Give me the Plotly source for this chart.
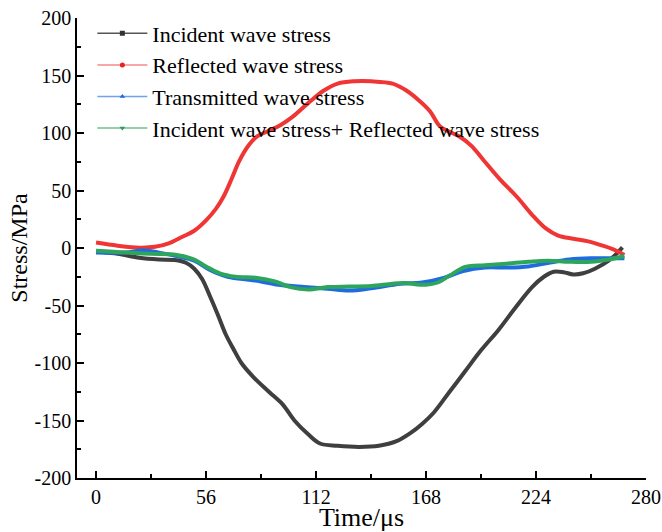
import plotly.graph_objects as go

# ---- data ----
t_inc = [0, 11, 22, 32, 40, 46, 50, 54, 58, 62, 66, 70, 74, 80, 88, 95, 101, 108, 114, 123, 134, 144, 153, 160, 166, 172, 180, 188, 196, 205, 213, 222, 228, 233, 238, 243, 248, 254, 261, 265, 268]
v_inc = [-3, -5, -8.5, -10, -10.5, -13, -18, -27, -42, -58, -75, -88, -100, -112, -125, -136, -150, -162, -170, -172, -173, -172, -168, -161, -153, -143, -125, -107, -89, -71, -53, -34, -25, -20.6, -21, -23, -22, -18, -11, -5, 0.5]

t_ref = [0, 11, 22, 30, 37, 44, 50, 56, 61, 65, 69, 73, 78, 82, 88, 94, 100, 108, 116, 123, 131.5, 140, 151, 157, 164, 170, 175, 180, 185, 191, 197, 206, 214, 223, 229, 235, 243, 250, 257, 263, 269]
v_ref = [4.7, 2, 0.3, 1, 4, 9.8, 15, 24, 34, 45, 60, 76, 90, 97, 102, 107, 114, 126, 137, 143, 145, 145, 143, 138, 129, 119, 106, 101, 97, 89, 77, 59, 45, 27, 17, 11, 8, 6, 2.5, -1, -6]

t_tra = [0, 15, 24, 32, 41, 50, 58, 67, 80, 93, 106, 118, 129, 140, 155, 166, 177, 187, 198, 209, 220, 230, 241, 252, 261, 269]
v_tra = [-4, -4, -2, -4, -7, -11, -19, -25, -28, -32, -34, -35.5, -37, -35, -31, -30, -26, -20, -17, -17, -16, -13, -10, -9, -9, -9]

t_sum = [0, 15, 28, 41, 50, 56, 63, 71, 82, 91, 99, 108, 118, 129, 140, 151, 157, 168, 174, 180, 188, 198, 209, 220, 230, 241, 252, 261, 269]
v_sum = [-2.5, -4, -5, -6, -10, -16, -22, -25, -26, -29, -34, -36, -34, -33.5, -33, -31, -30.5, -32, -30, -24, -16.5, -15, -13.6, -12, -11, -12, -12, -10, -7]

names = ["Incident wave stress", "Reflected wave stress", "Transmitted wave stress",
         "Incident wave stress+ Reflected wave stress"]
colors = ["#3f3f3f", "#f03535", "#1f6be0", "#2ea55c"]
legend_line_colors = ["#555555", "#f58a8a", "#6fa3f0", "#6cc18f"]
legend_marker_colors = ["#333333", "#e82020", "#1f6be0", "#2e9d5a"]
symbols = ["square", "circle", "triangle-up", "triangle-down"]
series = [(t_inc, v_inc), (t_ref, v_ref), (t_tra, v_tra), (t_sum, v_sum)]

x_ticks = [0, 56, 112, 168, 224, 280]
x_minor = [28, 84, 140, 196, 252]
y_ticks = [-200, -150, -100, -50, 0, 50, 100, 150, 200]
y_minor = [-175, -125, -75, -25, 25, 75, 125, 175]

FONT = "Liberation Serif, Times New Roman, serif"

fig = go.Figure()
for (tx, vy), c in zip(series, colors):
    fig.add_trace(go.Scatter(x=tx, y=vy, mode="lines", showlegend=False,
                             line=dict(color=c, width=4, shape="spline", smoothing=1.0),
                             hoverinfo="skip"))
# legend entries
for n, lc, mc, s in zip(names, legend_line_colors, legend_marker_colors, symbols):
    fig.add_trace(go.Scatter(x=[None], y=[None], mode="lines+markers", name=n,
                             line=dict(color=lc, width=1.5),
                             marker=dict(symbol=s, size=5, color=mc)))

fig.update_layout(
    width=662, height=532,
    margin=dict(l=77, r=16, t=18, b=54, autoexpand=False),
    paper_bgcolor="white", plot_bgcolor="white",
    font=dict(family=FONT, size=20, color="black"),
    showlegend=True,
    legend=dict(x=0.027, y=1.012, xanchor="left", yanchor="top",
                bgcolor="rgba(0,0,0,0)", borderwidth=0,
                font=dict(family=FONT, size=22, color="black"),
                itemwidth=50, tracegroupgap=0),
    xaxis=dict(range=[-9.7, 280], tickvals=x_ticks, ticktext=[str(v) for v in x_ticks],
               ticks="inside", ticklen=7, tickwidth=1.5, tickcolor="black",
               showline=True, linecolor="black", linewidth=1.5,
               showgrid=False, zeroline=False, automargin=False,
               minor=dict(tickvals=x_minor, ticks="inside", ticklen=4,
                          tickwidth=1.5, tickcolor="black", showgrid=False),
               tickfont=dict(family=FONT, size=20),
               title=dict(text="Time/μs", font=dict(family=FONT, size=26), standoff=0)),
    yaxis=dict(range=[-200, 200], tickvals=y_ticks, ticktext=[str(v) for v in y_ticks],
               ticks="inside", ticklen=7, tickwidth=1.5, tickcolor="black",
               showline=True, linecolor="black", linewidth=1.5,
               showgrid=False, zeroline=False, automargin=False,
               minor=dict(tickvals=y_minor, ticks="inside",
                          ticklen=4, tickwidth=1.5, tickcolor="black", showgrid=False),
               tickfont=dict(family=FONT, size=20),
               title=dict(text="Stress/MPa", font=dict(family=FONT, size=24), standoff=0)),
)

fig.write_html("out.html")
